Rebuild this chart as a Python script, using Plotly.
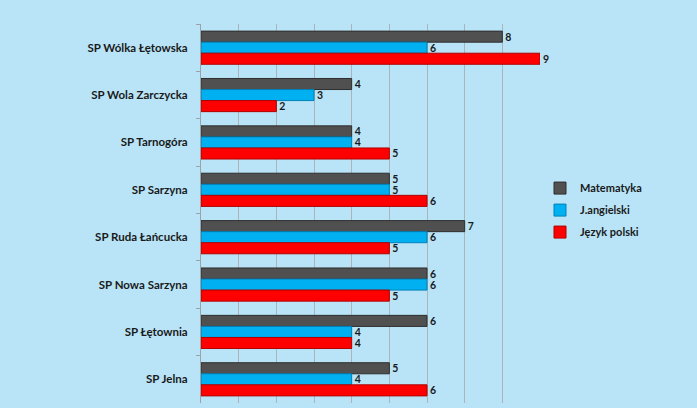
import plotly.graph_objects as go

schools = ["SP Wólka Łętowska", "SP Wola Zarczycka", "SP Tarnogóra", "SP Sarzyna",
           "SP Ruda Łańcucka", "SP Nowa Sarzyna", "SP Łętownia", "SP Jelna"]
matematyka = [8, 4, 4, 5, 7, 6, 6, 5]
angielski = [6, 3, 4, 5, 6, 6, 4, 4]
polski = [9, 2, 5, 6, 5, 5, 4, 6]

series = [
    ("Matematyka", matematyka, "#505050", "#2e2e2e"),
    ("J.angielski", angielski, "#00b0f0", "#0080b8"),
    ("Język polski", polski, "#ff0000", "#b00000"),
]

fig = go.Figure()
for name, vals, col, edge in series:
    fig.add_trace(go.Bar(
        name=name, y=schools, x=vals, orientation="h", legendgroup=name,
        marker=dict(color=col, line=dict(color=edge, width=1)),
        text=[str(v) for v in vals], textposition="outside", constraintext="none",
        textfont=dict(family="Lato", size=10.5, color="#1a1a1a", weight="bold"),
        cliponaxis=False,
    ))

fig.update_layout(
    width=697, height=408,
    margin=dict(l=201, r=157, t=24, b=5, autoexpand=False),
    paper_bgcolor="#b9e4f7",
    plot_bgcolor="rgba(0,0,0,0)",
    barmode="group", bargap=0.3, bargroupgap=0.0,
    font=dict(family="Lato", size=11, color="#1a1a1a"),
    showlegend=True,
    legend=dict(x=1.0, y=0.509, xanchor="left", yanchor="middle", tracegroupgap=3,
                font=dict(family="Lato", size=11, color="#1a1a1a", weight="bold"),
                bgcolor="rgba(0,0,0,0)", itemwidth=30),
    xaxis=dict(range=[0, 9], dtick=1, showgrid=True, gridcolor="#a9b4bb", gridwidth=1,
               showticklabels=False, zeroline=False, showline=False, automargin=False),
    yaxis=dict(autorange="reversed", showline=True, linecolor="#9aa4aa", linewidth=1,
               ticks="outside", ticklen=4, tickcolor="#9aa4aa", tickson="boundaries",
               tickfont=dict(family="Lato", size=11.5, color="#1a1a1a", weight="bold"),
               ticklabelstandoff=10, showgrid=False, automargin=False),
)

fig.write_html("out.html", config={"displayModeBar": False},
               post_script="document.body.style.margin='0';document.body.style.background='#b9e4f7';")
